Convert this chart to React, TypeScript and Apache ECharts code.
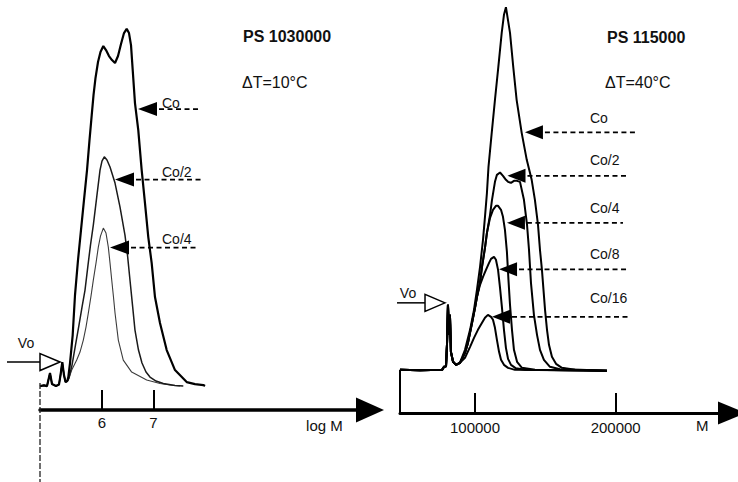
import React, { useEffect, useRef } from "react";
import * as echarts from "echarts";

type Pt = [number, number];

// ---------- Left panel: PS 1030000, ΔT = 10 °C  (x = log M, y = detector signal, Co peak = 100)
const leftLead: Pt[] = [
  [4.8, 0], [4.878, 0.2], [4.936, 0], [4.994, 3.64], [5.033, 0.56], [5.11, 0],
  [5.168, 0.42], [5.198, 3.08], [5.232, 6.72], [5.265, 3.08], [5.295, 1.12], [5.329, 1.4],
];
const leftCo: Pt[] = [
  [5.349, 2.52], [5.382, 6.44], [5.434, 14.28], [5.479, 25.48], [5.537, 35.27], [5.595, 43.67],
  [5.653, 52.07], [5.712, 60.47], [5.76, 68.87], [5.803, 75.87], [5.838, 81.47], [5.876, 86.23],
  [5.925, 90.71], [5.973, 93.51], [6.028, 95.18], [6.08, 94.06], [6.138, 92.39], [6.196, 91.27],
  [6.255, 90.43], [6.313, 92.39], [6.371, 95.74], [6.429, 98.82], [6.481, 100], [6.526, 98.82],
  [6.565, 95.46], [6.598, 88.47], [6.642, 79.23], [6.706, 71.67], [6.772, 60.47], [6.836, 51.23],
  [6.9, 41.71], [6.966, 34.43], [7.03, 24.92], [7.127, 17.64], [7.257, 10.08], [7.418, 4.48],
  [7.645, 1.12], [7.806, 0.56], [7.967, 0.28], [8.0, 0],
];
const leftCo2: Pt[] = [
  [5.362, 2.24], [5.421, 5.88], [5.488, 11.48], [5.556, 17.08], [5.615, 22.12], [5.673, 26.88],
  [5.731, 33.87], [5.779, 39.47], [5.834, 45.07], [5.9, 52.91], [5.964, 60.47], [6.002, 62.99],
  [6.047, 64.19], [6.099, 63.27], [6.158, 61.31], [6.255, 56.83], [6.352, 50.11], [6.448, 42.27],
  [6.497, 36.67], [6.545, 29.68], [6.594, 22.68], [6.642, 15.68], [6.71, 10.08], [6.778, 6.44],
  [6.856, 3.92], [6.933, 2.52], [7.05, 1.4], [7.191, 0.7], [7.418, 0.14], [7.579, 0],
];
const leftCo4: Pt[] = [
  [5.349, 1.68], [5.415, 4.48], [5.512, 7.28], [5.576, 9.52], [5.64, 12.88], [5.692, 16.52],
  [5.737, 20.44], [5.789, 25.2], [5.834, 29.68], [5.886, 34.43], [5.931, 38.91], [5.973, 41.99],
  [6.028, 44.23], [6.08, 42.83], [6.125, 38.91], [6.158, 34.43], [6.191, 29.68], [6.225, 24.92],
  [6.255, 20.44], [6.319, 12.88], [6.415, 7.28], [6.578, 3.92], [6.869, 1.68], [7.127, 0.7],
  [7.321, 0.28], [7.515, 0],
];
const leftTicks = [6, 7];

// ---------- Right panel: PS 115000, ΔT = 40 °C  (x = M, y = detector signal, Co peak = 100)
const rightLead: Pt[] = [
  [46700, 0], [60900, -0.14], [76600, 0], [78000, 0.83], [79400, 0.96], [80100, 6.89],
  [80800, 17.92], [81500, 9.65], [82200, 15.16], [82900, 4.96], [84400, 2.21], [86500, 1.38],
  [89300, 1.93],
];
const rightRise: Pt[] = [
  [92900, 4.69], [95000, 7.44], [97900, 12.96], [100000, 17.09], [101400, 20.13],
];
const rightRiseUpper: Pt[] = [
  [103600, 24.26], [105000, 28.4], [107100, 33.64], [108500, 37.77],
];
const rightCo: Pt[] = [
  [92900, 5.51], [96500, 11.03], [99300, 16.54], [101400, 22.06], [103600, 28.4], [105700, 35.84],
  [107100, 42.18], [108500, 48.8], [109600, 55.97], [111900, 65.34], [114200, 74.44],
  [116600, 83.54], [119000, 92.91], [120600, 97.88], [122000, 100], [124900, 92.91],
  [127200, 83.54], [129600, 74.44], [133200, 65.34], [136800, 57.9], [140300, 52.38],
  [142600, 46.87], [144800, 39.98], [146200, 33.09], [147600, 27.57], [148700, 22.06],
  [149800, 16.54], [151200, 11.03], [152600, 6.89], [154700, 3.58], [157600, 1.65],
  [161800, 0.55], [171100, 0], [193800, -0.28],
];
const rightCo2: Pt[] = [
  [110700, 42.74], [112100, 46.87], [114200, 51.83], [115600, 53.76], [117800, 54.4],
  [119900, 53.49], [122000, 52.38], [123500, 51.83], [125600, 51.56], [127700, 52.11],
  [129900, 52.11], [132000, 51.83], [134800, 46.87], [137000, 39.98], [138400, 33.09],
  [139800, 23.99], [141900, 15.16], [144100, 9.65], [146200, 5.51], [149000, 2.76],
  [153300, 0.83], [160400, 0.14], [174600, 0], [193800, -0.28],
];
const rightCo4: Pt[] = [
  [110700, 41.91], [112800, 44.11], [114900, 45.22], [116400, 45.22], [118500, 44.11],
  [119900, 42.18], [121300, 38.6], [122700, 32.53], [123800, 24.81], [124900, 17.92],
  [126300, 11.03], [127700, 5.51], [129900, 2.21], [133400, 0.55], [142600, 0], [193800, -0.28],
];
const rightCo8: Pt[] = [
  [103600, 23.44], [105700, 25.64], [107800, 27.57], [110000, 29.5], [111400, 30.6],
  [113500, 31.16], [114900, 30.33], [116400, 27.57], [117800, 22.61], [119200, 17.09],
  [120600, 11.03], [122000, 6.07], [123500, 3.03], [125600, 1.38], [129100, 0.41],
  [135500, 0], [193800, -0.28],
];
const rightCo16: Pt[] = [
  [92900, 3.31], [96500, 6.34], [99300, 8.82], [102100, 11.03], [105000, 12.96], [107100, 14.34],
  [109200, 15.16], [111400, 14.61], [112800, 13.79], [114200, 11.58], [115600, 8.27],
  [117100, 4.96], [118500, 2.76], [120600, 1.38], [123500, 0.55], [128400, 0], [193800, -0.28],
];
const rightTicks = [100000, 200000];

// Concentration call-outs: arrow tip on the trace, dashed leader end, label anchor (data units)
const leftMarkers = [
  { label: "Co", tipX: 6.701, level: 77.55, endX: 7.903, textX: 7.166, textY: 79.23 },
  { label: "Co/2", tipX: 6.255, level: 57.81, endX: 7.942, textX: 7.166, textY: 59.91 },
  { label: "Co/4", tipX: 6.158, level: 38.77, endX: 7.845, textX: 7.166, textY: 41.29 },
];
const rightMarkers = [
  { label: "Co", tipX: 135500, level: 65.48, endX: 215100, textX: 181700, textY: 69.56 },
  { label: "Co/2", tipX: 123100, level: 53.49, endX: 208000, textX: 181700, textY: 57.9 },
  { label: "Co/4", tipX: 122700, level: 40.53, endX: 205200, textX: 181700, textY: 44.67 },
  { label: "Co/8", tipX: 117100, level: 27.71, endX: 208000, textX: 181700, textY: 31.98 },
  { label: "Co/16", tipX: 112100, level: 14.61, endX: 208700, textX: 181700, textY: 19.85 },
];
// Void-volume marker (tip position)
const leftVo: Pt = [5.188, 6.72];
const rightVo: Pt = [78700, 18.47];

const FONT = '"Liberation Sans", Arial, Helvetica, sans-serif';

const LEFT_X = { min: 4.8, max: 11.2 };
const LEFT_Y = { min: -6.7, max: 105 };
const RIGHT_X = { min: 46700, max: 282700 };
const RIGHT_Y = { min: -11.9, max: 101 };

function xAxisFor(gridIndex: number, range: { min: number; max: number }, ticks: number[], arrow: number[]) {
  return {
    type: "value" as const,
    gridIndex,
    min: range.min,
    max: range.max,
    splitLine: { show: false },
    axisLine: {
      show: true,
      onZero: false,
      symbol: ["none", "triangle"],
      symbolSize: arrow,
      lineStyle: { color: "#000", width: gridIndex === 0 ? 3.5 : 3 },
    },
    axisTick: {
      show: true,
      inside: true,
      length: 20,
      customValues: ticks,
      lineStyle: { color: "#000", width: 2 },
    },
    axisLabel: {
      show: true,
      customValues: ticks,
      margin: gridIndex === 0 ? 5 : 7,
      fontSize: 15,
      fontFamily: FONT,
      color: "#111",
      formatter: (v: number) => String(v),
    },
  };
}

function lineSeries(name: string, idx: number, data: Pt[], width: number, color: string) {
  return {
    type: "line" as const,
    name,
    xAxisIndex: idx,
    yAxisIndex: idx,
    data,
    symbol: "none",
    showSymbol: false,
    lineStyle: { color, width },
    z: 3,
  };
}

export default function App() {
  const ref = useRef<HTMLDivElement>(null);

  useEffect(() => {
    if (!ref.current) return;
    const chart = echarts.init(ref.current, null, { renderer: "svg" });

    chart.setOption({
      animation: false,
      backgroundColor: "#fff",
      grid: [
        { left: 40, top: 11, width: 330, height: 399 },
        { left: 400, top: 3.5, width: 332, height: 409.5 },
      ],
      xAxis: [
        xAxisFor(0, LEFT_X, leftTicks, [25, 28]),
        xAxisFor(1, RIGHT_X, rightTicks, [23, 28]),
      ],
      yAxis: [
        { type: "value", gridIndex: 0, show: false, min: LEFT_Y.min, max: LEFT_Y.max },
        { type: "value", gridIndex: 1, show: false, min: RIGHT_Y.min, max: RIGHT_Y.max },
      ],
      series: [
        lineSeries("Co/4", 0, [...leftLead, ...leftCo4], 1.1, "#3c3c3c"),
        lineSeries("Co/2", 0, [...leftLead, ...leftCo2], 1.5, "#1a1a1a"),
        lineSeries("Co", 0, [...leftLead, ...leftCo], 2.2, "#000"),
        lineSeries("Co/16", 1, [...rightLead, ...rightCo16], 2, "#000"),
        lineSeries("Co/8", 1, [...rightLead, ...rightRise, ...rightCo8], 2, "#000"),
        lineSeries("Co/4", 1, [...rightLead, ...rightRise, ...rightRiseUpper, ...rightCo4], 2, "#000"),
        lineSeries("Co/2", 1, [...rightLead, ...rightRise, ...rightRiseUpper, ...rightCo2], 2, "#000"),
        lineSeries("Co", 1, [...rightLead, ...rightCo], 2, "#000"),
      ],
    });

    const px = (grid: number, p: Pt) => chart.convertToPixel({ gridIndex: grid } as any, p) as number[];

    const graphics: any[] = [];
    const text = (x: number, y: number, s: string, font: string, align = "left") => ({
      type: "text",
      x,
      y,
      z: 10,
      style: { text: s, font, fill: "#111", textAlign: align, textVerticalAlign: "middle" },
    });

    const addMarkers = (grid: number, markers: typeof leftMarkers, len: number, half: number) => {
      for (const m of markers) {
        const [tx, ty] = px(grid, [m.tipX, m.level]);
        const [ex] = px(grid, [m.endX, m.level]);
        const [lx, ly] = px(grid, [m.textX, m.textY]);
        graphics.push({
          type: "polygon",
          z: 10,
          shape: { points: [[tx, ty], [tx + len, ty - half], [tx + len, ty + half]] },
          style: { fill: "#000" },
        });
        graphics.push({
          type: "line",
          z: 10,
          shape: { x1: tx + len + 2, y1: ty, x2: ex, y2: ty },
          style: { stroke: "#000", lineWidth: 1.7, lineDash: [5, 3.5] },
        });
        graphics.push(text(lx, ly, m.label, `14px ${FONT}`));
      }
    };
    addMarkers(0, leftMarkers, 19, 7);
    addMarkers(1, rightMarkers, 18, 7);

    const addVo = (grid: number, tip: Pt, lineFrom: number, textDx: number, textDy: number) => {
      const [vx, vy] = px(grid, tip);
      graphics.push({
        type: "line",
        z: 10,
        shape: { x1: vx - lineFrom, y1: vy, x2: vx - 20, y2: vy },
        style: { stroke: "#000", lineWidth: 1.5 },
      });
      graphics.push({
        type: "polygon",
        z: 10,
        shape: { points: [[vx, vy], [vx - 20, vy - 8.5], [vx - 20, vy + 8.5]] },
        style: { fill: "#fff", stroke: "#000", lineWidth: 1.5 },
      });
      graphics.push(text(vx + textDx, vy + textDy, "Vo", `14px ${FONT}`, "center"));
    };
    addVo(0, leftVo, 53, -34, -19);
    addVo(1, rightVo, 48, -37, -10);

    // start-of-trace drop lines
    const [l0x, l0y] = px(0, [LEFT_X.min, 0.84]);
    graphics.push({
      type: "line",
      z: 9,
      shape: { x1: l0x, y1: l0y, x2: l0x, y2: 482 },
      style: { stroke: "#222", lineWidth: 1.3, lineDash: [6, 2] },
    });
    const [r0x, r0y] = px(1, [RIGHT_X.min, 0]);
    const [, r1y] = px(1, [RIGHT_X.min, RIGHT_Y.min]);
    graphics.push({
      type: "line",
      z: 9,
      shape: { x1: r0x, y1: r0y, x2: r0x, y2: r1y },
      style: { stroke: "#000", lineWidth: 2 },
    });

    // axis names
    const [lnx, lny] = px(0, [9.96, LEFT_Y.min]);
    graphics.push(text(lnx, lny + 15, "log M", `15px ${FONT}`));
    const [rnx, rny] = px(1, [257100, RIGHT_Y.min]);
    graphics.push(text(rnx, rny + 12, "M", `15px ${FONT}`));

    // panel headings
    graphics.push(text(243, 36, "PS 1030000", `bold 16px ${FONT}`));
    graphics.push(text(242, 82, "ΔT=10°C", `16px ${FONT}`));
    graphics.push(text(607, 37, "PS 115000", `bold 16px ${FONT}`));
    graphics.push(text(605, 82, "ΔT=40°C", `16px ${FONT}`));

    chart.setOption({ graphic: graphics });

    return () => chart.dispose();
  }, []);

  return (
    <div
      ref={ref}
      style={{ position: "fixed", left: 0, top: 0, width: 738, height: 482, background: "#fff" }}
    />
  );
}
